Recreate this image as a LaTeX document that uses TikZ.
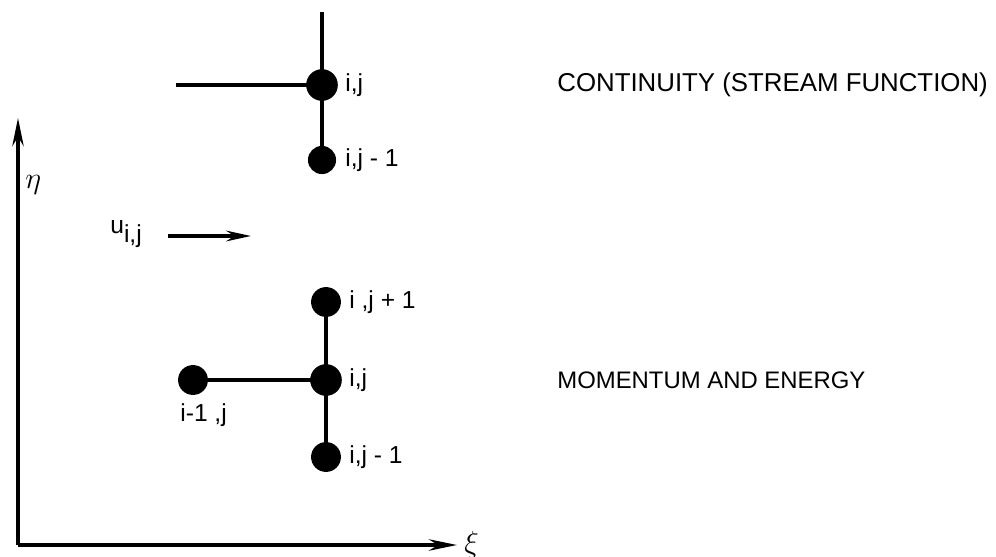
\documentclass[tikz,border=0pt]{standalone}
\usepackage{fontspec}
\setmainfont{Liberation Sans}
\usetikzlibrary{arrows.meta}
\begin{document}
\begin{tikzpicture}[x=0.02cm,y=-0.02cm,
  dot/.style={circle,fill=black,inner sep=0pt,minimum size=#1},
  dot/.default=17,
  lbl/.style={font=\fontsize{14pt}{16pt}\selectfont,inner sep=0pt},
  ln/.style={line width=2.1pt},
  axis/.style={line width=2.1pt,-{Stealth[length=16pt,width=6.5pt]}}]
\useasboundingbox (0,0) rectangle (996,557);
% top stencil
\coordinate (ttop) at (322,12);
\coordinate (tleft) at (176,85);
\node[dot=18] (a) at (322,85) {};
\node[dot=16] (b) at (322,160) {};
\draw[ln] (ttop) -- (a.center) -- (b.center);
\draw[ln] (tleft) -- (a.center);
\node[lbl,anchor=west] (la) at (345,85) {i,j};
\node[lbl,anchor=west] (lb) at (345,160) {i,j - 1};
\node[lbl,anchor=west,font=\fontsize{14.7pt}{16pt}\selectfont] (cont) at (557,85) {CONTINUITY (STREAM FUNCTION)};
% axes
\coordinate (o) at (18,545);
\coordinate (ytop) at (18,118);
\coordinate (xend) at (457,545);
\draw[axis] (o) -- (ytop);
\draw[axis] (o) -- (xend);
\node[lbl,anchor=west,font=\fontsize{17pt}{18pt}\selectfont] (eta) at (25,185) {$\eta$};
\node[lbl,anchor=west,font=\fontsize{17pt}{18pt}\selectfont] (xi) at (464,545) {$\xi$};
% u arrow
\node[lbl,anchor=west] (u) at (110,234) {u\raisebox{-5pt}{i,j}};
\coordinate (us) at (168,236);
\coordinate (ue) at (251,236);
\draw[line width=2.1pt,-{Stealth[length=14pt,width=6pt]}] (us) -- (ue);
% bottom stencil
\node[dot=17] (c) at (326,302) {};
\node[dot=18] (d) at (326,380) {};
\node[dot=17] (e) at (193,380) {};
\node[dot=17] (f) at (326,457) {};
\draw[ln] (c.center) -- (d.center) -- (f.center);
\draw[ln] (e.center) -- (d.center);
\node[lbl,anchor=west] (lc) at (349,302) {i ,j + 1};
\node[lbl,anchor=west] (ld) at (349,380) {i,j};
\node[lbl,anchor=west] (le) at (180,415) {i-1 ,j};
\node[lbl,anchor=west] (lf) at (349,457) {i,j - 1};
\node[lbl,anchor=west,font=\fontsize{13.6pt}{16pt}\selectfont] (mom) at (557,380) {MOMENTUM AND ENERGY};
\end{tikzpicture}
\end{document}
